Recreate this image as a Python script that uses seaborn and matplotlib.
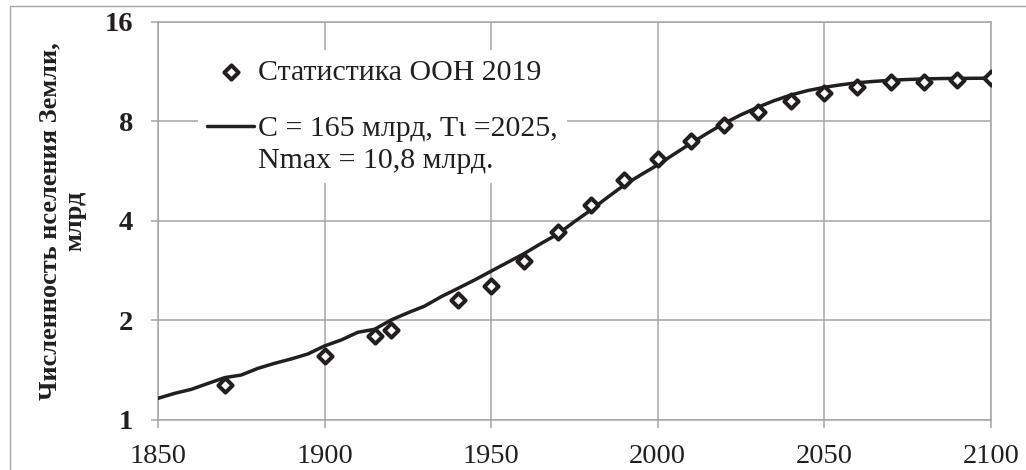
import numpy as np
import pandas as pd
import matplotlib
matplotlib.use("Agg")
import matplotlib.pyplot as plt
import seaborn as sns
from matplotlib.legend_handler import HandlerLine2D
from matplotlib.patches import Rectangle
from matplotlib.ticker import NullLocator

# ---- data ----
years_un = [1870, 1900, 1915, 1920, 1940, 1950, 1960, 1970, 1980, 1990, 2000,
            2010, 2020, 2030, 2040, 2050, 2060, 2070, 2080, 2090, 2100]
pop_un = [1.28, 1.56, 1.79, 1.87, 2.31, 2.54, 3.03, 3.70, 4.46, 5.33, 6.14,
          6.96, 7.79, 8.55, 9.20, 9.74, 10.15, 10.50, 10.55, 10.70, 10.85]

years_model = list(range(1850, 2101, 5))
pop_model = [1.163, 1.204, 1.238, 1.29, 1.343, 1.368, 1.433, 1.484, 1.53, 1.584,
             1.675, 1.746, 1.842, 1.881, 2.007, 2.11, 2.21, 2.36, 2.50, 2.65,
             2.82, 3.00, 3.19, 3.42, 3.65, 3.98, 4.32, 4.72, 5.14, 5.52,
             5.91, 6.38, 6.87, 7.38, 7.90, 8.38, 8.83, 9.25, 9.62, 9.92,
             10.15, 10.33, 10.48, 10.58, 10.66, 10.72, 10.76, 10.79, 10.80, 10.81,
             10.82]

x_ticks = [1850, 1900, 1950, 2000, 2050, 2100]
y_ticks = [1, 2, 4, 8, 16]
y_tick_labels = ["1", "2", "4", "8", "16"]
label_un = "Статистика ООН 2019"
label_model = "C = 165 млрд, Tι =2025,\nNmax = 10,8 млрд."
y_label = "Численность нселения Земли,\nмлрд"

# ---- style ----
sns.set_style("white")
plt.rcParams['font.family'] = ['Liberation Serif', 'DejaVu Serif']

ink = '#231f20'
gridc = '#a6a6a6'

fig = plt.figure(figsize=(10.26, 4.70), dpi=100)
ax = fig.add_axes([0.154, 0.1064, 0.8116, 0.8468])

sns.lineplot(x=years_model, y=pop_model, ax=ax, color=ink, lw=2.5,
             label=label_model, zorder=3)
sns.scatterplot(x=years_un, y=pop_un, ax=ax, marker='D', s=52, color='white',
                edgecolor=ink, linewidth=2.9, label=label_un, zorder=4)

ax.set_yscale('log', base=2)
ax.set_xlim(1850, 2100)
ax.set_ylim(1, 16)
ax.set_xticks(x_ticks)
ax.set_yticks(y_ticks)
ax.set_yticklabels(y_tick_labels)
ax.yaxis.set_minor_locator(NullLocator())
ax.grid(True, color=gridc, lw=1.1)
ax.set_axisbelow(True)
for s in ax.spines.values():
    s.set_color(gridc)
    s.set_linewidth(1.1)

ax.tick_params(axis='x', bottom=True, direction='out', length=6, width=1.1,
               color=gridc, pad=11, labelsize=20.5, labelcolor=ink)
ax.tick_params(axis='y', left=True, direction='out', length=5, width=1.1,
               color=gridc, pad=13, labelsize=20.5, labelcolor=ink)
for t in ax.get_yticklabels():
    t.set_fontweight('bold')
ax.set_xlabel("")
ax.set_ylabel(y_label, fontsize=19, fontweight='bold', color=ink,
              linespacing=1.12)
ax.yaxis.set_label_coords(-0.0865, 0.5)


class UpperLine(HandlerLine2D):
    def create_artists(self, legend, orig_handle, xdescent, ydescent, width,
                       height, fontsize, trans):
        arts = super().create_artists(legend, orig_handle, xdescent, ydescent,
                                      width, height, fontsize, trans)
        for a in arts:
            a.set_ydata(np.asarray(a.get_ydata()) + 0.6 * fontsize)
        return arts


handles, labels = ax.get_legend_handles_labels()
hd = dict(zip(labels, handles))
leg = ax.legend([hd[label_un], hd[label_model]], [label_un, label_model],
                loc='upper left', bbox_to_anchor=(0.0477, 0.93),
                borderpad=0.3, borderaxespad=0, handlelength=1.6,
                handletextpad=0.12, labelspacing=1.0, fontsize=21.5,
                frameon=True, fancybox=False, edgecolor='none',
                facecolor='white', framealpha=1,
                handler_map={hd[label_model]: UpperLine()})
for t in leg.get_texts():
    t.set_color(ink)
    t.set_linespacing(1.32)

fig.add_artist(Rectangle((10 / 1026, -0.1), 1.2, 1.1 - 6 / 470,
                         transform=fig.transFigure, fill=False,
                         edgecolor=gridc, lw=1.0))

fig.savefig("out.png", dpi=100)
